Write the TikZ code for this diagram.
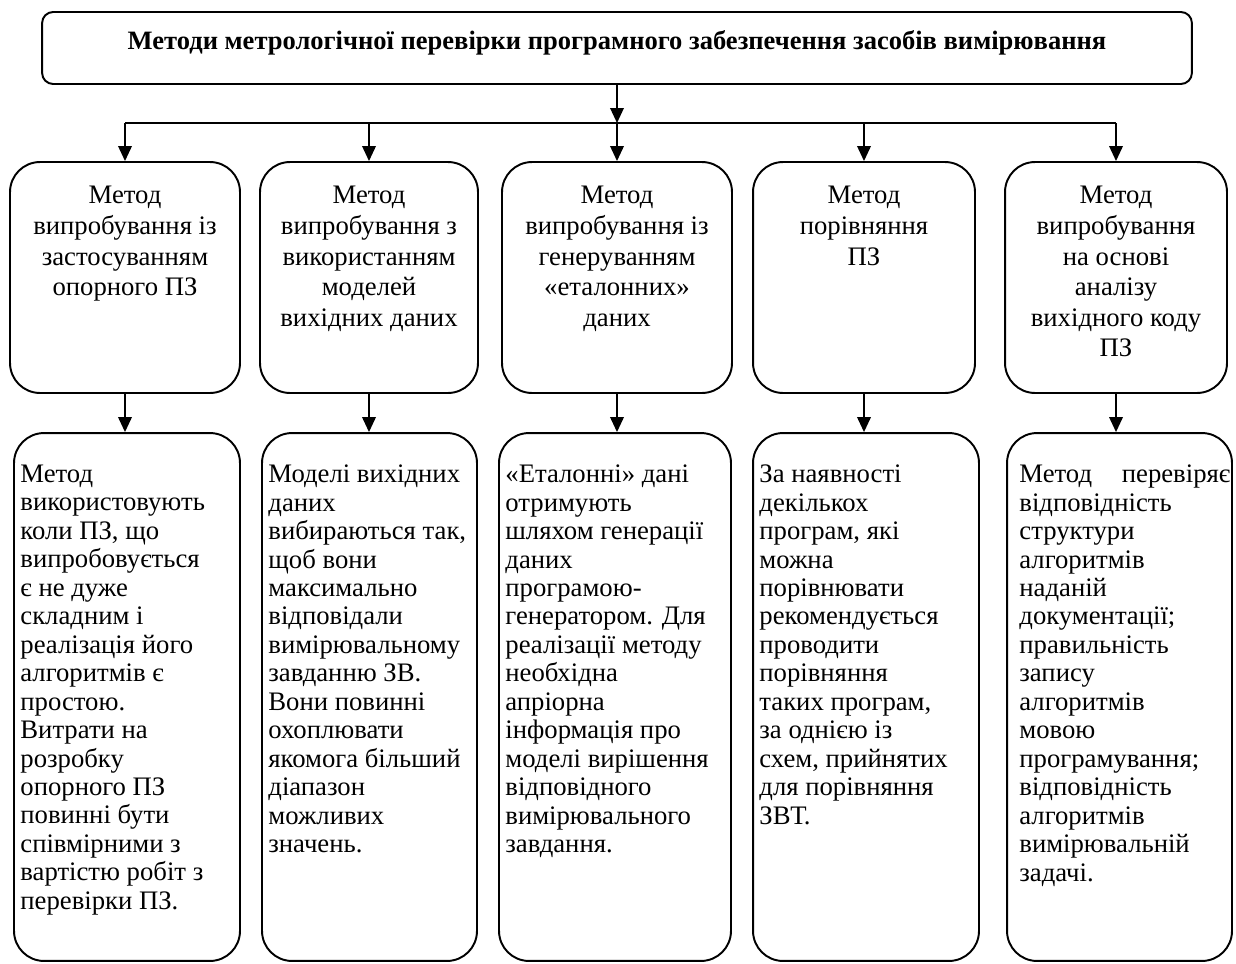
\documentclass[tikz,border=0pt]{standalone}
\usepackage{fontspec}
\setmainfont{Liberation Serif}
\usetikzlibrary{arrows.meta}

\begin{document}
\begin{tikzpicture}[x=0.02cm, y=-0.02cm, every node/.style={inner sep=0pt},
    titlebox/.style={draw, rounded corners=0.22cm, line width=1.1pt, minimum width=23cm, minimum height=1.44cm,
                     font=\fontsize{15.1pt}{17pt}\selectfont\bfseries, text height=0.4cm, text depth=0.32cm},
    midbox/.style={draw, rounded corners=0.6cm, line width=1.1pt, minimum height=4.62cm},
    lowbox/.style={draw, rounded corners=0.6cm, line width=1.1pt, minimum height=10.56cm},
    midtext/.style={anchor=north, yshift=-0.5cm, align=center, font=\fontsize{15.2pt}{17.4pt}\selectfont},
    lowtext/.style={anchor=north west, xshift=0.14cm, yshift=-0.65cm, align=left, font=\fontsize{15.2pt}{16.2pt}\selectfont},
    arr/.style={-{Triangle[width=0.27cm, length=0.3cm]}, line width=1.1pt}]
        \useasboundingbox (0,0) rectangle (1236,963);
        \node[titlebox] (title) at (617,48) {Методи метрологічної перевірки програмного забезпечення засобів вимірювання};
        % methods
        \node[midbox, minimum width=4.6cm] (m1) at (125,277.5) {};
        \node[midbox, minimum width=4.36cm] (m2) at (369,277.5) {};
        \node[midbox, minimum width=4.6cm] (m3) at (617,277.5) {};
        \node[midbox, minimum width=4.44cm] (m4) at (864,277.5) {};
        \node[midbox, minimum width=4.44cm] (m5) at (1116,277.5) {};
        \node[midtext] (t1) at (m1.north) {Метод\\випробування із\\застосуванням\\опорного ПЗ};
        \node[midtext] (t2) at (m2.north) {Метод\\випробування з\\використанням\\моделей\\вихідних даних};
        \node[midtext] (t3) at (m3.north) {Метод\\випробування із\\генеруванням\\«еталонних»\\даних};
        \node[midtext] (t4) at (m4.north) {Метод\\порівняння\\ПЗ};
        \node[midtext] (t5) at (m5.north) {Метод\\випробування\\на основі\\аналізу\\вихідного коду\\ПЗ};
        % descriptions
        \node[lowbox, minimum width=4.52cm] (b1) at (127,697) {};
        \node[lowbox, minimum width=4.3cm] (b2) at (369.5,697) {};
        \node[lowbox, minimum width=4.64cm] (b3) at (615,697) {};
        \node[lowbox, minimum width=4.52cm] (b4) at (866,697) {};
        \node[lowbox, minimum width=4.5cm] (b5) at (1119.5,697) {};
        \node[lowtext] (d1) at (b1.north west) {Метод\\використовують\\коли ПЗ, що\\випробовується\\є не дуже\\складним і\\реалізація його\\алгоритмів є\\простою.\\Витрати на\\розробку\\опорного ПЗ\\повинні бути\\співмірними з\\вартістю робіт з\\перевірки ПЗ.};
        \node[lowtext] (d2) at (b2.north west) {Моделі вихідних\\даних\\вибираються так,\\щоб вони\\максимально\\відповідали\\вимірювальному\\завданню ЗВ.\\Вони повинні\\охоплювати\\якомога більший\\діапазон\\можливих\\значень.};
        \node[lowtext] (d3) at (b3.north west) {«Еталонні» дані\\отримують\\шляхом генерації\\даних\\програмою-\\генератором. Для\\реалізації методу\\необхідна\\апріорна\\інформація про\\моделі вирішення\\відповідного\\вимірювального\\завдання.};
        \node[lowtext] (d4) at (b4.north west) {За наявності\\декількох\\програм, які\\можна\\порівнювати\\рекомендується\\проводити\\порівняння\\таких програм,\\за однією із\\схем, прийнятих\\для порівняння\\ЗВТ.};
        \node[lowtext, xshift=0.12cm] (d5) at (b5.north west) {\makebox[4.22cm][s]{Метод перевіряє}\\відповідність\\структури\\алгоритмів\\наданій\\документації;\\правильність\\запису\\алгоритмів\\мовою\\програмування;\\відповідність\\алгоритмів\\вимірювальній\\задачі.};
        % connectors
        \coordinate (bus) at (617,123);
        \draw[arr] (title.south) -- (bus);
        \draw[line width=1.1pt] (m1.north |- bus) -- (m5.north |- bus);
        \foreach \i in {1,...,5}
            \draw[arr] (m\i.north |- bus) -- (m\i.north);
        \foreach \i in {1,...,5}
            \draw[arr] (m\i.south) -- (m\i.south |- b\i.north);
\end{tikzpicture}
\end{document}
